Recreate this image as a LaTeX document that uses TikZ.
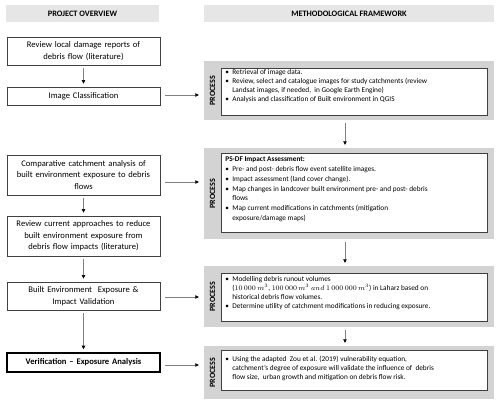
\documentclass[tikz,border=0pt]{standalone}
\usepackage{fontspec}
\setmainfont{Carlito}
\usepackage{enumitem}
\usetikzlibrary{arrows.meta}
\definecolor{hdrgray}{HTML}{E6E6E6}
\definecolor{procgray}{HTML}{D3D3D3}
\definecolor{boxline}{HTML}{404040}
\definecolor{arrgray}{HTML}{808080}
\newcommand{\rfont}{\fontsize{7.3}{9}\selectfont}
\begin{document}
\begin{tikzpicture}[x=1pt,y=-1pt,
  hdr/.style={fill=hdrgray, minimum height=17pt, inner sep=0pt, font=\fontsize{8.3}{9}\selectfont\bfseries},
  lbox/.style={draw=boxline, line width=0.8pt, fill=white, minimum width=153pt, text width=150pt, align=center, inner sep=0pt, font=\fontsize{8.6}{11.5}\selectfont},
  procbg/.style={fill=procgray, minimum width=290pt, inner sep=0pt},
  plabel/.style={rotate=90, inner sep=0pt, font=\fontsize{8}{9}\selectfont\bfseries},
  ibox/.style={draw=boxline, line width=0.8pt, fill=white, inner sep=0pt, anchor=north west, font=\rfont},
  arr/.style={draw=arrgray, line width=0.6pt, -{Triangle[color=black,length=3.5pt,width=3.5pt]}},
  vert/.style={arr, shorten <=3pt, shorten >=3pt},
  horiz/.style={arr, shorten <=4.5pt, shorten >=5pt}
]
\useasboundingbox (0,0) rectangle (500,405);
\setlist[itemize]{label=\textbullet, leftmargin=11pt, labelsep=3.5pt, nosep}

% headers
\node[hdr, minimum width=153pt] (hl) at (82.5,13.5) {PROJECT OVERVIEW};
\node[hdr, minimum width=290pt] (hr) at (349,13.5) {METHODOLOGICAL FRAMEWORK};

% left column
\node[lbox, minimum height=28pt] (b1) at (83.5,51) {Review local damage reports of\\debris flow (literature)};
\node[lbox, minimum height=18pt] (b2) at (83.5,96) {Image Classification};
\node[lbox, minimum height=40pt] (b3) at (83.5,175) {Comparative catchment analysis of\\built environment exposure to debris\\flows};
\node[lbox, minimum height=40pt] (b4) at (83.5,236) {Review current approaches to reduce\\built environment exposure from\\debris flow impacts (literature)};
\node[lbox, minimum height=28pt] (b5) at (83.5,296) {Built Environment\ \ Exposure \&\\Impact Validation};
\node[lbox, minimum height=19pt, draw=black, line width=1.6pt, font=\fontsize{8.6}{11.5}\selectfont\bfseries] (b6) at (83.5,362.5) {Verification -- Exposure Analysis};

% process 1
\node[procbg, minimum height=59pt] (p1) at (349,90.5) {};
\node[plabel] (l1) at (212.5,90.5) {PROCESS};
\node[ibox] (t1) at (221,68) {\begin{minipage}[c][47pt][t]{266pt}\raggedright
\vspace*{1.5pt}
\begin{itemize}
\item Retrieval of image data.
\item Review, select and catalogue images for study catchments (review\newline Landsat images, if needed,\ \ in Google Earth Engine)
\item Analysis and classification of Built environment in QGIS
\end{itemize}
\end{minipage}};

% process 2
\node[procbg, minimum height=91pt] (p2) at (349,193.5) {};
\node[plabel] (l2) at (212.5,193.5) {PROCESS};
\node[ibox] (t2) at (221,153) {\begin{minipage}[c][79pt][t]{266pt}\raggedright\fontsize{7.3}{9.8}\selectfont
\vspace*{3.5pt}
\hspace*{4pt}{\bfseries PS-DF Impact Assessment:}\par
\begin{itemize}
\item Pre- and post- debris flow event satellite images.
\item Impact assessment (land cover change).
\item Map changes in landcover built environment pre- and post- debris\newline flows
\item Map current modifications in catchments (mitigation\newline exposure/damage maps)
\end{itemize}
\end{minipage}};

% process 3
\node[procbg, minimum height=61pt] (p3) at (349,296.5) {};
\node[plabel] (l3) at (212.5,296.5) {PROCESS};
\node[ibox] (t3) at (221,273) {\begin{minipage}[c][48pt][t]{266pt}\raggedright
\vspace*{3pt}
\begin{itemize}
\item Modelling debris runout volumes\newline
($10\,000\,m^3$, $100\,000\,m^3$ $and$ $1\,000\,000\,m^3$) in Laharz based on\newline historical debris flow volumes.
\item Determine utility of catchment modifications in reducing exposure.
\end{itemize}
\end{minipage}};

% process 4
\node[procbg, minimum height=53pt] (p4) at (349,372.5) {};
\node[plabel] (l4) at (212.5,372.5) {PROCESS};
\node[ibox] (t4) at (221,350) {\begin{minipage}[c][40pt][t]{266pt}\raggedright
\vspace*{6pt}
\begin{itemize}
\item Using the adapted\ \ Zou et al. (2019) vulnerability equation,\newline
catchment's degree of exposure will validate the influence of\ \ debris\newline
flow size,\ \ urban growth and mitigation on debris flow risk.
\end{itemize}
\end{minipage}};

% vertical arrows, left
\draw[vert] (b1) -- (b2);
\draw[vert] (b3) -- (b4);
\draw[vert] (b4) -- (b5);
\draw[vert] (b5) -- (b6);

% vertical arrows, right
\draw[vert] ([xshift=-4pt]p1.south) -- ([xshift=-4pt]p2.north);
\draw[vert] ([xshift=-4pt]p2.south) -- ([xshift=-4pt]p3.north);
\draw[vert] ([xshift=-4pt]p3.south) -- ([xshift=-4pt]p4.north);

% horizontal arrows
\coordinate (a2) at ([yshift=1pt]b2.east);
\coordinate (a3) at ([yshift=-7pt]b3.east);
\coordinate (a5) at ([yshift=-1pt]b5.east);
\coordinate (a6) at ([yshift=-2.5pt]b6.east);
\draw[horiz] (a2) -- (a2 -| p1.west);
\draw[horiz] (a3) -- (a3 -| p2.west);
\draw[horiz] (a5) -- (a5 -| p3.west);
\draw[horiz] (a6) -- (a6 -| p4.west);
\end{tikzpicture}
\end{document}
